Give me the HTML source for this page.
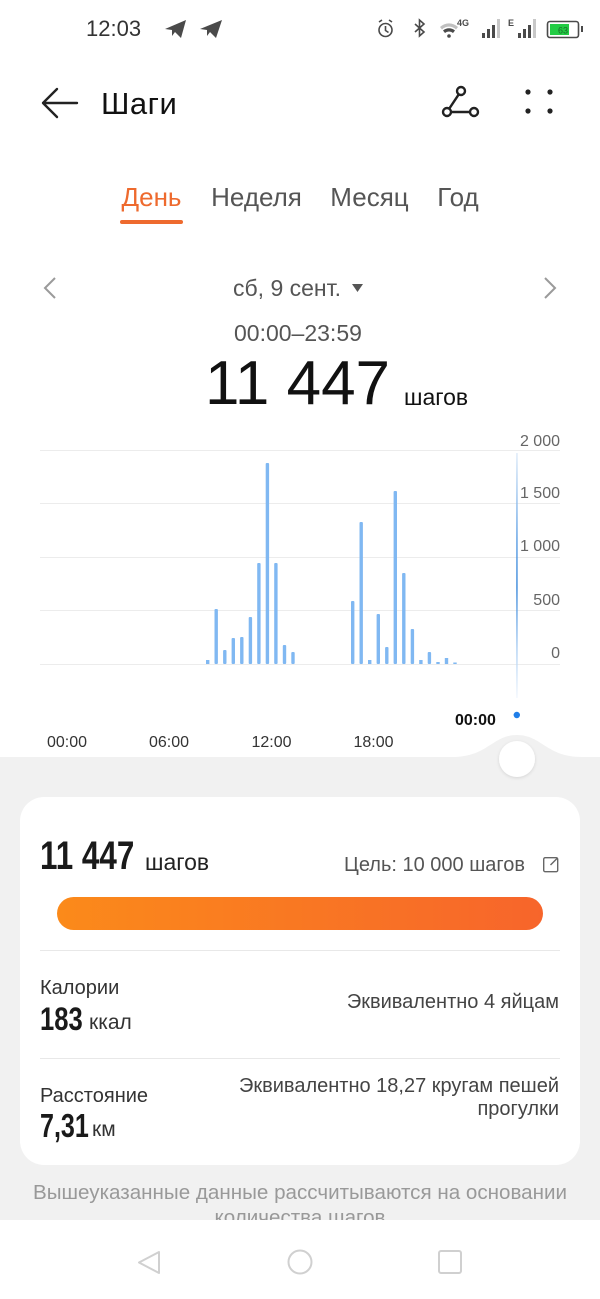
<!DOCTYPE html>
<html><head><meta charset="utf-8">
<style>
html,body{margin:0;padding:0;background:#fff;}
body{width:600px;height:1299px;position:relative;overflow:hidden;font-family:"Liberation Sans","DejaVu Sans",sans-serif;}
.t{position:absolute;white-space:nowrap;line-height:1;}
svg.bg{position:absolute;left:0;top:0;}
</style></head><body>
<svg class="bg" width="600" height="1299" viewBox="0 0 600 1299" xmlns="http://www.w3.org/2000/svg">
<defs>
<linearGradient id="prog" x1="0" y1="0" x2="1" y2="0">
<stop offset="0" stop-color="#FB8A1A"/><stop offset="1" stop-color="#F7652B"/>
</linearGradient>
<linearGradient id="vl" x1="0" y1="0" x2="0" y2="1">
<stop offset="0" stop-color="#dbe9f8"/><stop offset="0.35" stop-color="#4f97e2"/><stop offset="0.55" stop-color="#2a7fd8"/><stop offset="0.8" stop-color="#a9cdf3"/><stop offset="1" stop-color="#f2f7fd"/>
</linearGradient>
<filter id="sh" x="-50%" y="-50%" width="200%" height="200%"><feDropShadow dx="0" dy="1" stdDeviation="1.5" flood-color="#000" flood-opacity="0.12"/></filter>
</defs>
<!-- gray background -->
<rect x="0" y="757" width="600" height="463" fill="#f1f1f1"/>
<path d="M452 757 C488 757 492 735 517 735 C542 735 546 757 582 757 Z" fill="#f1f1f1"/>
<circle cx="517" cy="759" r="18" fill="#fff" filter="url(#sh)"/>
<!-- nav bar -->
<rect x="0" y="1220" width="600" height="79" fill="#fff"/>
<polygon points="159,1252 139,1262.5 159,1273" fill="none" stroke="#d0d0d0" stroke-width="2" stroke-linejoin="round"/>
<circle cx="300" cy="1262" r="11.5" fill="none" stroke="#d0d0d0" stroke-width="2"/>
<rect x="439" y="1251" width="22" height="22" rx="2" fill="none" stroke="#d0d0d0" stroke-width="2"/>
<!-- card -->
<rect x="20" y="797" width="560" height="368" rx="24" fill="#fff"/>
<rect x="57" y="897" width="486" height="33" rx="16.5" fill="url(#prog)"/>
<rect x="40" y="950" width="520" height="1" fill="#e8e8e8"/>
<rect x="40" y="1058" width="520" height="1" fill="#e8e8e8"/>
<!-- edit icon -->
<rect x="543.7" y="857.7" width="14" height="14" rx="1.5" fill="none" stroke="#666" stroke-width="1.4"/>
<path d="M550.5 865 L557.5 858" fill="none" stroke="#666" stroke-width="1.4"/>
<!-- grid -->
<g fill="#ececec">
<rect x="40" y="450" width="520" height="1"/>
<rect x="40" y="503" width="520" height="1"/>
<rect x="40" y="557" width="520" height="1"/>
<rect x="40" y="610" width="520" height="1"/>
<rect x="40" y="664" width="520" height="1"/>
</g>
<!-- bars -->
<g fill="#80B8F2">
<rect x="206.0" y="660" width="3.4" height="4"/>
<rect x="214.5" y="609" width="3.4" height="55" rx="1"/>
<rect x="223.1" y="650" width="3.4" height="14" rx="1"/>
<rect x="231.6" y="638" width="3.4" height="26" rx="1"/>
<rect x="240.1" y="637" width="3.4" height="27" rx="1"/>
<rect x="248.7" y="617" width="3.4" height="47" rx="1"/>
<rect x="257.2" y="563" width="3.4" height="101" rx="1"/>
<rect x="265.7" y="463" width="3.4" height="201" rx="1"/>
<rect x="274.2" y="563" width="3.4" height="101" rx="1"/>
<rect x="282.8" y="645" width="3.4" height="19" rx="1"/>
<rect x="291.3" y="652" width="3.4" height="12" rx="1"/>
<rect x="351.0" y="601" width="3.4" height="63" rx="1"/>
<rect x="359.5" y="522" width="3.4" height="142" rx="1"/>
<rect x="368.0" y="660" width="3.4" height="4"/>
<rect x="376.6" y="614" width="3.4" height="50" rx="1"/>
<rect x="385.1" y="647" width="3.4" height="17" rx="1"/>
<rect x="393.6" y="491" width="3.4" height="173" rx="1"/>
<rect x="402.1" y="573" width="3.4" height="91" rx="1"/>
<rect x="410.7" y="629" width="3.4" height="35" rx="1"/>
<rect x="419.2" y="660" width="3.4" height="4"/>
<rect x="427.7" y="652" width="3.4" height="12" rx="1"/>
<rect x="436.3" y="662" width="3.4" height="2"/>
<rect x="444.8" y="658" width="3.4" height="6"/>
<rect x="453.3" y="662.5" width="3.4" height="1.5"/>
</g>
<!-- cursor line -->
<rect x="516.3" y="453" width="1.3" height="245" fill="url(#vl)"/>
<circle cx="516.8" cy="715" r="3.2" fill="#1f7ee8"/>
<!-- header icons -->
<path d="M57 89 L43 103 L57 117 M43 103 H77" fill="none" stroke="#222" stroke-width="2.4" stroke-linecap="round" stroke-linejoin="round"/>
<g fill="none" stroke="#222" stroke-width="2.4">
<circle cx="461" cy="91" r="4"/>
<circle cx="447" cy="112" r="4"/>
<circle cx="474" cy="112" r="4"/>
<path d="M458.8 94.3 L449.2 108.7 M451 112 H470"/>
</g>
<g fill="#222">
<circle cx="528" cy="92" r="2.6"/><circle cx="550" cy="92" r="2.6"/>
<circle cx="528" cy="111" r="2.6"/><circle cx="550" cy="111" r="2.6"/>
</g>
<!-- tab underline -->
<rect x="120" y="220" width="63" height="4" rx="2" fill="#EE6A2E"/>
<!-- chevrons -->
<polyline points="55,278 45,288 55,298" fill="none" stroke="#9a9a9a" stroke-width="2"/>
<polyline points="545,278 555,288 545,298" fill="none" stroke="#9a9a9a" stroke-width="2"/>
<polygon points="352,284 363,284 357.5,292" fill="#555"/>
<!-- status bar icons -->
<g fill="#4a4a4a">
<polygon points="165,29 186,20 181,38 175,32 172,36 172,30"/>
<polygon points="200,29 222,20 216,38 210,32 207,36 207,30"/>
</g>
<g fill="none" stroke="#4a4a4a" stroke-width="1.6">
<circle cx="385.5" cy="30" r="6.5"/>
<path d="M385.5 26 V30.5 L388.5 32.5"/>
<path d="M379 22 L382 20 M392 22 L389 20"/>
<path d="M415 24 L424 32 L419.5 36 V20 L424 24 L415 32"/>
</g>
<g fill="#4a4a4a">
<path d="M440 27 A13 13 0 0 1 458 27 L456 29.5 A10 10 0 0 0 442 29.5 Z" opacity="0.35"/>
<path d="M443 30.5 A9 9 0 0 1 455 30.5 L453 33 A6 6 0 0 0 445 33 Z"/>
<circle cx="449" cy="36" r="1.8"/>
<text x="457" y="26" font-family="Liberation Sans" font-size="9" font-weight="bold">4G</text>
<rect x="482" y="33" width="3" height="5"/>
<rect x="487" y="29" width="3" height="9"/>
<rect x="492" y="25" width="3" height="13"/>
<rect x="497" y="19" width="3" height="19" fill="#c8c8c8"/>
<text x="508" y="26" font-family="Liberation Sans" font-size="9" font-weight="bold">E</text>
<rect x="518" y="33" width="3" height="5"/>
<rect x="523" y="29" width="3" height="9"/>
<rect x="528" y="25" width="3" height="13"/>
<rect x="533" y="19" width="3" height="19" fill="#c8c8c8"/>
</g>
<rect x="547.5" y="21.5" width="31" height="16" rx="2.5" fill="none" stroke="#4a4a4a" stroke-width="1.6"/>
<rect x="550" y="24" width="19" height="11" fill="#22cc44"/>
<rect x="581" y="26" width="2" height="6" fill="#4a4a4a"/>
<text x="558" y="33.5" font-family="Liberation Sans" font-size="9" fill="#1a6a2a">63</text>
</svg>

<div class="t" style="left:86px;top:18px;font-size:22px;color:#333;">12:03</div>
<div class="t" style="left:101px;top:88px;font-size:31px;color:#111;letter-spacing:0.5px;">Шаги</div>

<div class="t" style="left:101.5px;width:100px;text-align:center;top:184px;font-size:26px;color:#EE6A2E;">День</div>
<div class="t" style="left:196.5px;width:120px;text-align:center;top:184px;font-size:26px;color:#555;">Неделя</div>
<div class="t" style="left:309.5px;width:120px;text-align:center;top:184px;font-size:26px;color:#555;">Месяц</div>
<div class="t" style="left:408px;width:100px;text-align:center;top:184px;font-size:26px;color:#555;">Год</div>

<div class="t" style="left:233px;top:277px;font-size:23px;color:#555;">сб, 9 сент.</div>
<div class="t" style="left:234px;top:322px;font-size:23px;color:#555;">00:00–23:59</div>
<div class="t" style="left:205px;top:352.5px;font-size:62px;color:#111;">11 447</div>
<div class="t" style="left:404px;top:385.5px;font-size:23px;color:#111;">шагов</div>

<div class="t" style="right:40px;top:434px;font-size:16px;color:#666;">2 000</div>
<div class="t" style="right:40px;top:486px;font-size:16px;color:#666;">1 500</div>
<div class="t" style="right:40px;top:539px;font-size:16px;color:#666;">1 000</div>
<div class="t" style="right:40px;top:593px;font-size:16px;color:#666;">500</div>
<div class="t" style="right:40px;top:645.5px;font-size:16px;color:#666;">0</div>

<div class="t" style="left:455px;top:713px;font-size:16px;font-weight:bold;color:#111;">00:00</div>
<div class="t" style="left:37px;width:60px;text-align:center;top:735px;font-size:16px;color:#333;">00:00</div>
<div class="t" style="left:139px;width:60px;text-align:center;top:735px;font-size:16px;color:#333;">06:00</div>
<div class="t" style="left:241.5px;width:60px;text-align:center;top:735px;font-size:16px;color:#333;">12:00</div>
<div class="t" style="left:343.5px;width:60px;text-align:center;top:735px;font-size:16px;color:#333;">18:00</div>

<div class="t" style="left:40px;top:836.5px;font-size:39.5px;font-weight:bold;color:#1a1a1a;transform:scaleX(0.795);transform-origin:0 0;">11 447</div>
<div class="t" style="left:145px;top:850.5px;font-size:23px;color:#222;">шагов</div>
<div class="t" style="right:75px;top:854.7px;font-size:20px;color:#555;">Цель: 10 000 шагов</div>

<div class="t" style="left:40px;top:978px;font-size:20px;color:#333;">Калории</div>
<div class="t" style="left:40px;top:1003px;font-size:32px;font-weight:bold;color:#1a1a1a;transform:scaleX(0.8);transform-origin:0 0;">183</div>
<div class="t" style="left:89px;top:1012px;font-size:21px;color:#333;">ккал</div>
<div class="t" style="right:41px;top:992px;font-size:20px;color:#444;">Эквивалентно 4 яйцам</div>

<div class="t" style="left:40px;top:1086px;font-size:20px;color:#333;">Расстояние</div>
<div class="t" style="left:40px;top:1109px;font-size:33px;font-weight:bold;color:#1a1a1a;transform:scaleX(0.76);transform-origin:0 0;">7,31</div>
<div class="t" style="left:92px;top:1119px;font-size:21px;color:#333;">км</div>
<div class="t" style="right:41px;top:1074.7px;font-size:20px;line-height:23px;color:#444;text-align:right;">Эквивалентно 18,27 кругам пешей<br>прогулки</div>

<div style="position:absolute;left:0;top:1160px;width:600px;height:60px;overflow:hidden;">
<div class="t" style="left:0;width:600px;text-align:center;top:20.4px;font-size:20.6px;line-height:25px;color:#999;">Вышеуказанные данные рассчитываются на основании<br>количества шагов</div>
</div>
</body></html>
